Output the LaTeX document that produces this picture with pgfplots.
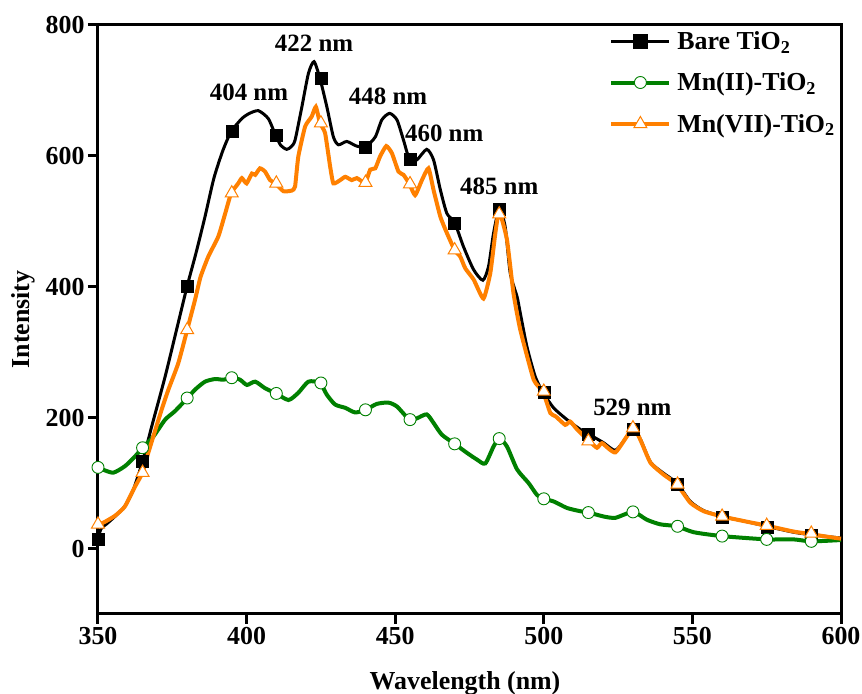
\documentclass[border=0pt]{standalone}
\usepackage{fontspec}
\setmainfont{Liberation Serif}
\usepackage{pgfplots}
\pgfplotsset{compat=1.18}
\definecolor{cgreen}{RGB}{0,128,0}
\definecolor{corange}{RGB}{255,128,0}
\begin{document}
\begin{tikzpicture}
\begin{axis}[name=ax, width=743bp, height=589bp, scale only axis,
 xmin=350,xmax=600,ymin=-100,ymax=800,
 xtick={350,400,...,600}, ytick={0,200,...,800},
 tick align=outside, xtick pos=bottom, ytick pos=left,
 major tick length=10bp, minor tick num=0,
 axis line style={line width=3bp},
 every tick/.style={line width=3bp, black},
 /pgf/number format/assume math mode=true,
 tick label style={font=\fontsize{26}{30}\selectfont\bfseries},
 label style={font=\fontsize{26}{30}\selectfont\bfseries},
 xlabel={Wavelength (nm)}, ylabel={Intensity},
 xlabel style={at={(axis description cs:0.494,-0.129)},anchor=base},
 ylabel style={at={(axis description cs:-0.100,0.5)},anchor=center},
 clip=false,
 legend style={at={(axis description cs:0.688,0.993)}, anchor=north west, draw=none, fill=none,
   font=\fontsize{26}{30}\selectfont\bfseries, row sep=18bp, column sep=4bp, inner sep=0pt, nodes={inner sep=2bp}},
 legend cell align=left,
 legend image code/.code={\draw[mark repeat=2,mark phase=2] plot coordinates {(0bp,0bp)(29bp,0bp)(58bp,0bp)};},
]
\addlegendimage{black, line width=3bp, mark=square*, mark size=6bp, mark options={solid}}
\addlegendimage{cgreen, line width=4bp, mark=*, mark size=6bp, mark options={fill=white, draw=cgreen, line width=0.9bp}}
\addlegendimage{corange, line width=4bp, mark=triangle*, mark size=7.5bp, mark options={fill=white, draw=corange, line width=1bp}}
\legend{Bare TiO\textsubscript{2},Mn(II)-TiO\textsubscript{2},Mn(VII)-TiO\textsubscript{2}}

% Bare TiO2 line
\addplot[black, line width=3bp, smooth, tension=0.4, forget plot] coordinates {
(350,14)(351,30)(353,38)(355.7,49)(359.1,65)(361.9,90)(365,133)(368.1,187)(372.6,263)(377,345)(380,401)
(383,452)(386,507)(389,566)(392,608)(394.8,637)(398.4,657)(401,665)(404,669)(407.3,657)(409.7,632)
(411.5,616)(413.5,610)(415,614)(416.3,624)(418.6,675)(420.8,726)(422.7,744)(424.7,718)(427,675)
(429.2,629)(430.9,617)(433.7,622)(437,615)(440.1,614)(443.3,629)(445.5,655)(448.1,665)(450.6,655)
(452.8,624)(454.8,595)(457.3,594)(460.6,610)(462.9,594)(465.2,548)(467.4,512)(470,498)(473,461)
(476.4,426)(479.5,410)(481.4,431)(483.1,482)(485,519)(487,492)(488.7,421)(491,385)(492,362)
(494.3,309)(497.1,263)(499.7,239)(503.3,215)(507.8,197)(512.3,182)(515.4,174)(520,162)(524,150)
(527,165)(530,184)(532.5,167)(535.9,132)(540.3,115)(544.8,100)(549.3,72)(553.8,58)(560,49)
(567.3,42)(575,34)(584,25)(590,21)(594,19)(600,16)};
\addplot[only marks, mark=square*, mark size=6bp, black, forget plot] coordinates {
(350,15)(365,133)(380,401)(395,637)(410,632)(425,718)(440,614)(455,595)(470,497)(485,519)
(500,239)(515,174)(530,183)(545,98)(560,48)(575,33)(590,21)};

% Mn(II)-TiO2 line
\addplot[cgreen, line width=4bp, smooth, tension=0.4, forget plot] coordinates {
(350,124)(352,120)(355.2,116)(359.1,126)(362.5,141)(365,154)(368.6,171)(372.6,197)(375.9,210)
(380.1,230)(382.7,243)(386,255)(389.4,259)(392.2,258)(395,261)(397.8,258)(400.1,250)(402.9,255)
(406.2,245)(409.9,237)(414.1,227)(417.4,238)(420.8,255)(424.7,253)(427,235)(429.8,220)(433.2,215)
(436.5,208)(440.1,212)(443.8,221)(447.7,223)(450.6,217)(454.8,197)(457.3,199)(460.6,205)(462.9,192)
(465.7,174)(470,160)(474.2,146)(477.5,136)(480.3,130)(483.1,156)(485,168)(487.6,156)(491,121)
(494.9,100)(497.7,82)(499.9,76)(503.3,72)(507.8,62)(512.3,57)(515.1,55)(520.1,49)(524.1,47)
(530,56)(534.7,44)(539.2,37)(544.8,34)(550.4,25)(560,19)(575,14)(584,14)(590,11)(600,13)};
\addplot[only marks, mark=*, mark size=6bp, mark options={fill=white, draw=cgreen, line width=0.9bp}, forget plot] coordinates {
(350,124)(365,154)(380,230)(395,261)(410,237)(425,253)(440,212)(455,197)(470,160)(485,168)
(500,76)(515,55)(530,56)(545,34)(560,19)(575,14)(590,11)};

% Mn(VII)-TiO2 line
\addplot[corange, line width=4bp, smooth, tension=0.3, forget plot] coordinates {
(350,37)(352,40)(355.7,50)(359,64)(362.5,95)(365,116)(366.9,146)(371.4,212)(373.7,243)(377,283)
(380,334)(382.7,381)(384.5,415)(387.1,446)(390.5,477)(392.8,512)(394.8,543)(397.2,558)(398.4,566)
(400,558)(401.8,573)(402.9,571)(404.5,581)(406.2,576)(407.9,563)(409.7,558)(412.4,546)(415.2,547)
(416.3,553)(417.4,599)(419.7,645)(421.9,660)(423.3,675)(424.7,650)(426.4,635)(428.1,584)(429.2,558)
(431.5,563)(433.2,568)(435.4,563)(437.1,566)(439.9,559)(441.6,579)(443.3,581)(444.9,599)(447,615)
(448.9,604)(451.1,576)(452.8,571)(454.8,557)(456.7,540)(459,563)(461.2,581)(462.9,548)(465.2,507)
(467.4,482)(470,456)(471.9,446)(473.6,428)(476.4,411)(479.7,382)(482,421)(483.7,482)(485,515)
(487.6,472)(489.8,390)(492.1,334)(496.6,258)(499.7,240)(502.2,207)(504,202)(507.2,189)(508.9,194)
(511.2,182)(515.1,165)(517.9,154)(519.6,161)(524.1,147)(530,184)(532.5,166)(535.9,131)(540.3,113)
(544.8,98)(549.3,70)(553.8,57)(560,49)(567.3,42)(575,35)(584,26)(590,22)(594,19)(600,15)};
\addplot[only marks, mark=triangle*, mark size=7.5bp, mark options={fill=white, draw=corange, line width=1bp}, forget plot] coordinates {
(350,37)(365,116)(380,334)(395,543)(410,558)(425,650)(440,559)(455,557)(470,456)(485,511)
(500,240)(515,164)(530,184)(545,98)(560,49)(575,35)(590,23)};

\begin{scope}[every node/.style={font=\fontsize{25}{28}\selectfont\bfseries, inner sep=0pt}]
\node at (axis cs:400.8,697.7) {404 nm};
\node at (axis cs:422.7,771.8) {422 nm};
\node at (axis cs:447.6,690.8) {448 nm};
\node at (axis cs:466.5,634.4) {460 nm};
\node at (axis cs:485.0,552.7) {485 nm};
\node at (axis cs:529.8,215.3) {529 nm};
\end{scope}
\end{axis}
\pgfresetboundingbox
\path[use as bounding box] ([xshift=-98bp,yshift=-80bp]ax.south west) rectangle ([xshift=21bp,yshift=25bp]ax.north east);
\end{tikzpicture}
\end{document}
